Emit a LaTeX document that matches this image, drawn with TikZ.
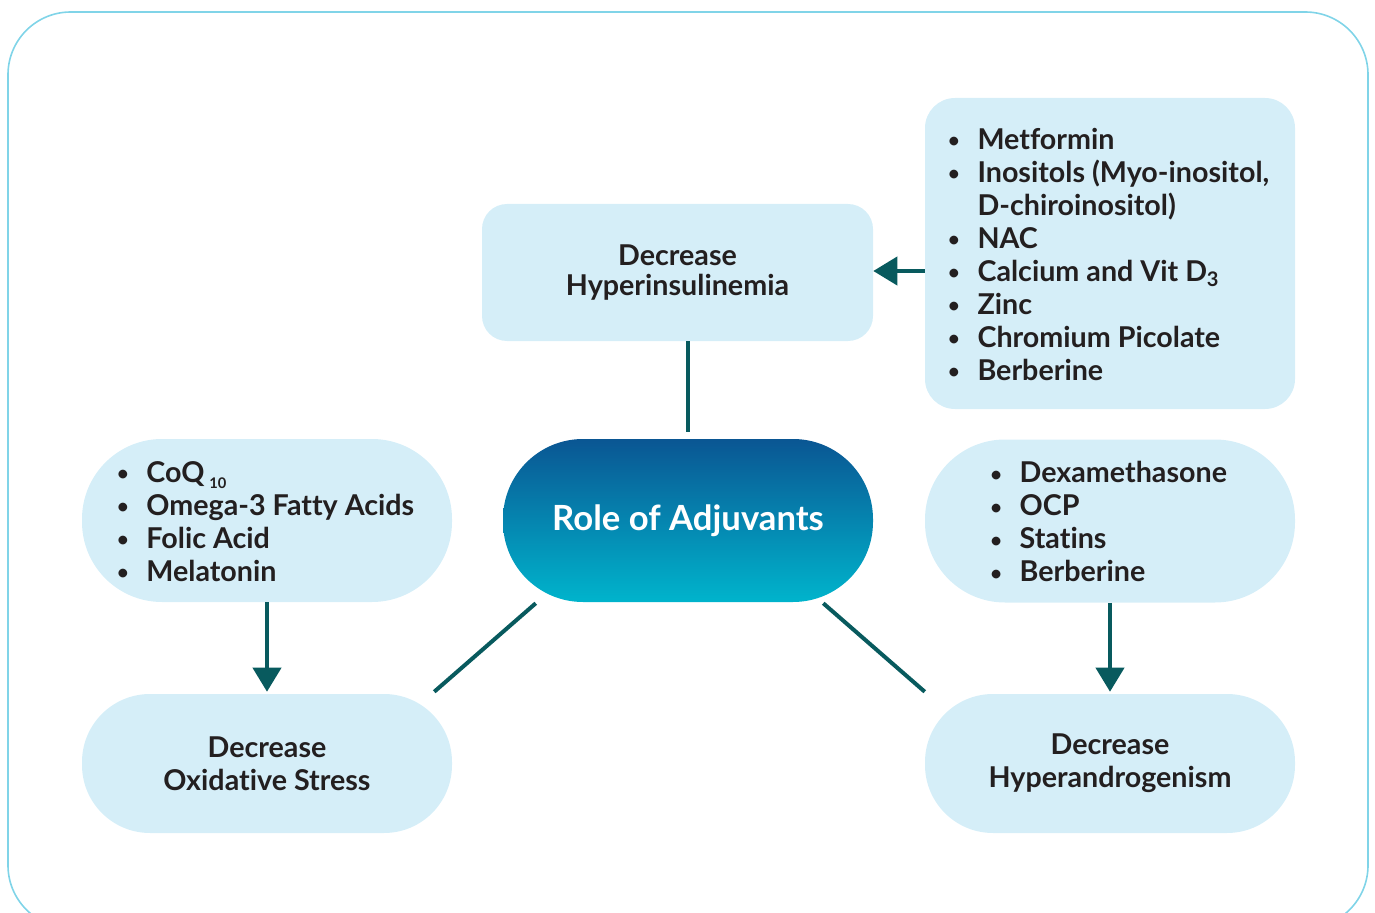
\documentclass[tikz,border=0pt]{standalone}
\usepackage{fontspec}
\setmainfont{Lato}[Ligatures=NoCommon]
\usetikzlibrary{arrows.meta, positioning, calc}
\definecolor{paleblue}{RGB}{213,238,248}
\definecolor{darkteal}{RGB}{8,90,94}
\definecolor{framecyan}{RGB}{128,212,232}
\definecolor{deepblue}{RGB}{10,86,147}
\definecolor{brightcyan}{RGB}{0,180,204}
\definecolor{inkgrey}{RGB}{35,31,32}
\newcommand{\itemdot}{\makebox[20pt][l]{\hspace{-2pt}\raisebox{1pt}{\scalebox{0.7}{\textbullet}}}}

\tikzset{
  box/.style={fill=paleblue, text=inkgrey, inner sep=0pt,
    font=\bfseries\fontsize{21.5}{24.75}\selectfont},
  listbox/.style={box, minimum width=277.5pt, minimum height=122.25pt, rounded corners=60pt},
  goalbox/.style={box, minimum width=277.5pt, minimum height=104.25pt, rounded corners=51pt, align=center},
  flow/.style={darkteal, line width=3pt, -{Triangle[length=18pt,width=21pt]}},
  link/.style={darkteal, line width=3pt}
}

\begin{document}
\begin{tikzpicture}[x=0.75pt, y=-0.75pt]
        \useasboundingbox (0,0) rectangle (1375,913);
        % Frame
        \draw[framecyan, line width=1.2pt, rounded corners=47pt] (8,12) rectangle (1368,928);
        % Centre
        \node[inner sep=0pt, minimum width=277.5pt, minimum height=122.25pt, rounded corners=60pt,
          top color=deepblue, bottom color=brightcyan, text=white,
          font=\bfseries\fontsize{26}{30}\selectfont] (role) at (688,520.5) {Role of Adjuvants};
        % Top branch
        \node[box, minimum width=293.25pt, minimum height=102.75pt, rounded corners=18.75pt,
          align=center, font=\bfseries\fontsize{21.5}{22.5}\selectfont] (hyper) at (677.5,272.5)
          {Decrease\\Hyperinsulinemia};
        \node[box, minimum width=277.5pt, minimum height=233.25pt, rounded corners=22.5pt] (meds) at (1110,253.5)
          {\raisebox{-3.5pt}[\height][\depth]{\begin{tabular}{@{}l@{}l@{}}
            \itemdot & Metformin\\
            \itemdot & Inositols (Myo-inositol,\\
             & D-chiroinositol)\\
            \itemdot & NAC\\
            \itemdot & Calcium and Vit D\textsubscript{3}\\
            \itemdot & Zinc\\
            \itemdot & Chromium Picolate\\
            \itemdot & Berberine
          \end{tabular}}};
        % Left branch
        \node[listbox] (anti) at (267,520.5)
          {\raisebox{-3.5pt}[\height][\depth]{\begin{tabular}{@{}l@{}l@{}}
            \itemdot & CoQ\,\raisebox{-5pt}[0pt][0pt]{\fontsize{11}{11}\selectfont 10}\\
            \itemdot & Omega-3 Fatty Acids\\
            \itemdot & Folic Acid\\
            \itemdot & Melatonin
          \end{tabular}}};
        \node[goalbox] (oxid) at (267,763.5) {Decrease\\Oxidative Stress};
        % Right branch
        \node[listbox] (andro) at (1110,521)
          {\raisebox{-3.5pt}[\height][\depth]{\begin{tabular}{@{}l@{}l@{}}
            \itemdot & Dexamethasone\\
            \itemdot & OCP\\
            \itemdot & Statins\\
            \itemdot & Berberine
          \end{tabular}}};
        \node[goalbox] (hyperand) at (1110,763.5) {Decrease\\Hyperandrogenism};
        % Connectors
        \draw[flow] (meds.west |- 0,271) -- (hyper.east |- 0,271);
        \draw[link, shorten >=5pt] (hyper.south -| role.north) -- (role.north);
        \draw[flow, shorten >=1.5pt] (anti.south) -- (oxid.north);
        \draw[flow, shorten >=1.5pt] (andro.south) -- (hyperand.north);
        \coordinate (lfoot) at ($(oxid.north east)+(-18,-2)$);
        \coordinate (rfoot) at ($(hyperand.north west)+(0,-2)$);
        \draw[link] ($(role.south west)+(33,1)$) -- (lfoot);
        \draw[link] ($(role.south east)+(-50,1)$) -- (rfoot);
      \end{tikzpicture}
\end{document}
